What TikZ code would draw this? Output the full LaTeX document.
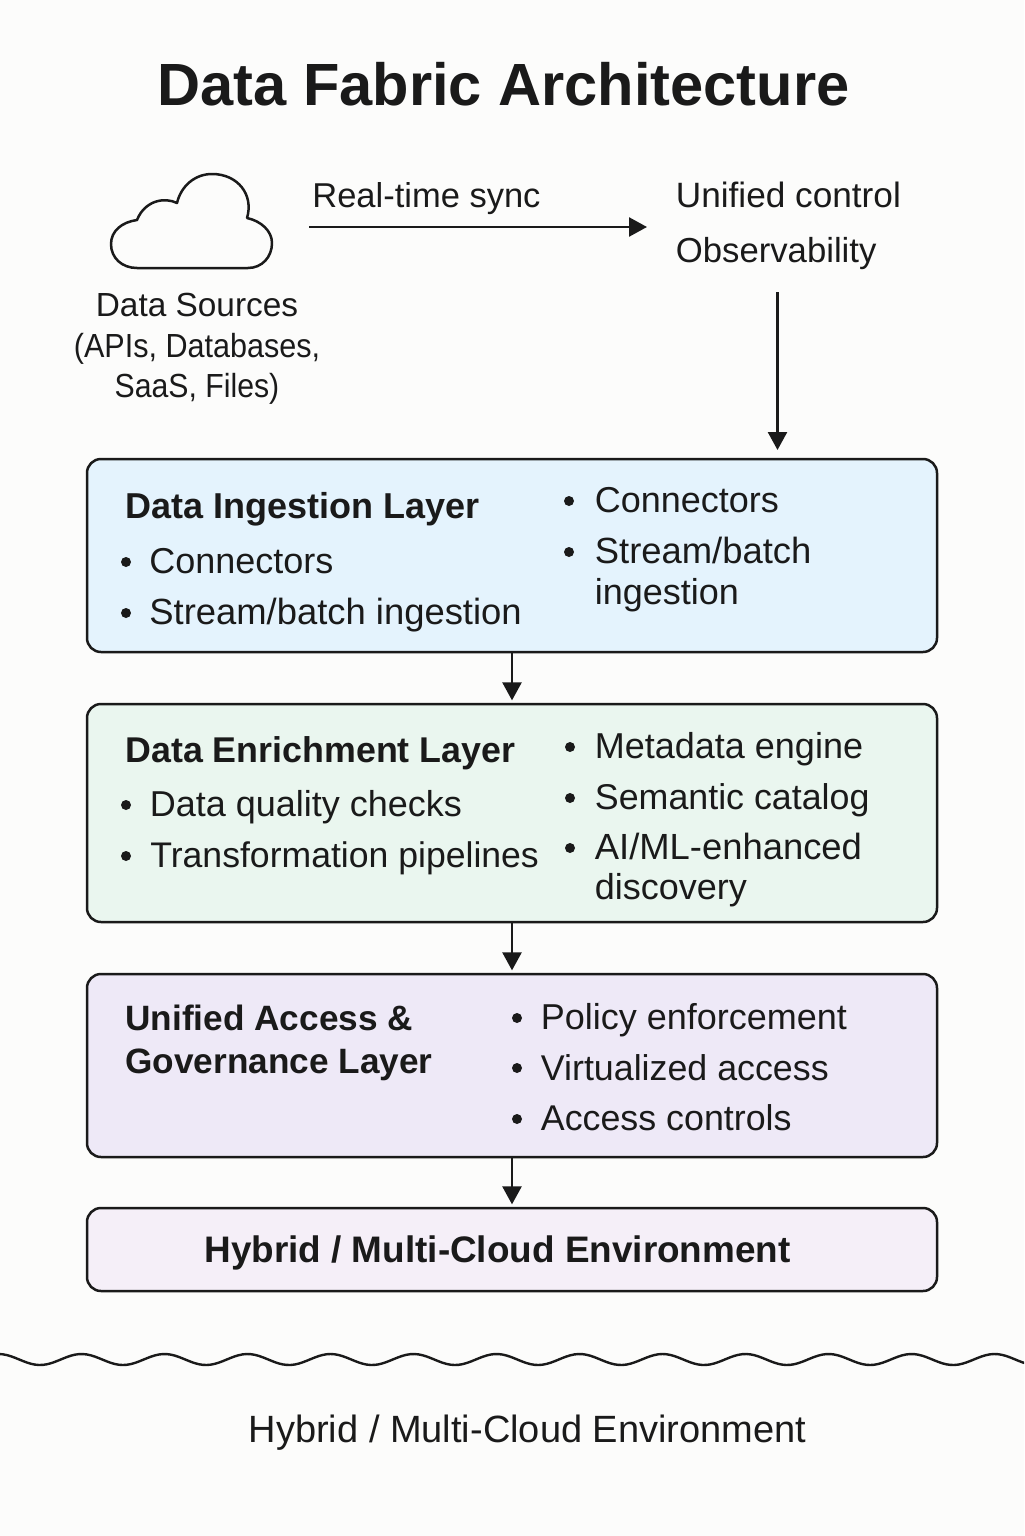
\documentclass[tikz,border=0pt]{standalone}
\usepackage{fontspec}
\setmainfont{Liberation Sans}
\usetikzlibrary{arrows.meta}
\definecolor{bgc}{HTML}{FCFCFB}
\definecolor{ink}{HTML}{1A1A1A}
\definecolor{fa}{HTML}{E4F3FD}
\definecolor{fb}{HTML}{EAF6EF}
\definecolor{fc}{HTML}{EEE9F7}
\definecolor{fd}{HTML}{F5EFF8}
\tikzset{
  layerbox/.style={draw=ink,line width=1.25pt,rounded corners=7pt,inner sep=0pt,minimum width=425pt},
  flow/.style={draw=ink,line width=1.25pt,-{Triangle[length=9pt,width=9.5pt]}},
  txt/.style={anchor=base west,inner sep=0pt,text=ink,font=\fontsize{#1}{20}\selectfont},
  txt/.default=18,
  ctr/.style={anchor=base,inner sep=0pt,text=ink,font=\fontsize{16.7}{20}\selectfont\addfontfeatures{FakeStretch=#1}},
  ctr/.default=1,
  head/.style={anchor=base west,inner sep=0pt,text=ink,font=\fontsize{#1}{20}\selectfont\bfseries},
  head/.default=18,
  dotb/.style={circle,fill=ink,inner sep=0pt,minimum size=5pt},
}
\begin{document}
\begin{tikzpicture}[x=0.5pt,y=-0.5pt]
\path[use as bounding box,fill=bgc] (0,0) rectangle (1024,1536);
\clip (0,0) rectangle (1024,1536);
\node[anchor=base,inner sep=0pt,text=ink,font=\fontsize{29.8}{34}\selectfont\bfseries] (title) at (503.5,105) {Data Fabric Architecture};
% cloud
\draw[ink,line width=1.25pt,line join=round] (137,268) -- (248,268)
  .. controls (262,268) and (272,257) .. (272,243)
  .. controls (272,231) and (261,221) .. (247,218)
  .. controls (254,195) and (238,174) .. (212,174)
  .. controls (195,174) and (181,186) .. (177,203)
  .. controls (165,197) and (145,200) .. (137,220)
  .. controls (122,222) and (111,231) .. (111,244)
  .. controls (111,258) and (122,268) .. (137,268) -- cycle;
\node[ctr] (src1) at (197,316) {Data Sources};
\node[ctr=0.915] (src2) at (197,357) {(APIs, Databases,};
\node[ctr=0.905] (src3) at (197,397) {SaaS, Files)};
\node[txt=17.25] (sync) at (312,207) {Real-time sync};
\coordinate (syncA) at (309,227);
\coordinate (syncB) at (647,227);
\draw[flow] (syncA) -- (syncB);
\node[txt=17.6] (ctl) at (675.5,207) {Unified control};
\node[txt=17.35] (obs) at (675.5,262) {Observability};
\coordinate (obsA) at (777.5,292);
\coordinate (obsB) at (777.5,450);
\draw[flow] (obsA) -- (obsB);
% boxes
\node[layerbox,fill=fa,minimum height=96.5pt] (ing) at (512,555.5) {};
\node[layerbox,fill=fb,minimum height=109pt] (enr) at (512,813) {};
\node[layerbox,fill=fc,minimum height=91.5pt] (acc) at (512,1065.5) {};
\node[layerbox,fill=fd,minimum height=41.5pt] (hyb) at (512,1249.5) {};
\draw[flow,shorten >=1.2pt] (ing) -- (enr);
\draw[flow,shorten >=1.2pt] (enr) -- (acc);
\draw[flow,shorten >=1.2pt] (acc) -- (hyb);
% ingestion
\node[head] (h1) at (125,518) {Data Ingestion Layer};
\node[dotb] (b1) at (126,562) {}; \node[txt] (t1) at (149,573) {Connectors};
\node[dotb] (b2) at (126,613) {}; \node[txt=18.2] (t2) at (149,624) {Stream/batch ingestion};
\node[dotb] (b3) at (569,501) {}; \node[txt] (t3) at (594.5,512) {Connectors};
\node[dotb] (b4) at (569,552) {}; \node[txt=18.2] (t4) at (594.5,563) {Stream/batch};
\node[txt] (t5) at (594.5,604) {ingestion};
% enrichment
\node[head=17.9] (h2) at (125,762) {Data Enrichment Layer};
\node[dotb] (b5) at (126,805) {}; \node[txt] (t6) at (149.5,816) {Data quality checks};
\node[dotb] (b6) at (126,856) {}; \node[txt=17.8] (t7) at (150,867) {Transformation pipelines};
\node[dotb] (b7) at (570,747) {}; \node[txt] (t8) at (594.5,758) {Metadata engine};
\node[dotb] (b8) at (570,798) {}; \node[txt=17.9] (t9) at (594.5,809) {Semantic catalog};
\node[dotb] (b9) at (570,848) {}; \node[txt=18.2] (t10) at (594.5,859) {AI/ML-enhanced};
\node[txt] (t11) at (594.5,899) {discovery};
% access
\node[head=17.6] (h3) at (125,1030) {Unified Access \&};
\node[head=17.6] (h4) at (125,1073) {Governance Layer};
\node[dotb] (b10) at (517,1018) {}; \node[txt] (t12) at (540.5,1029) {Policy enforcement};
\node[dotb] (b11) at (517,1068) {}; \node[txt=17.9] (t13) at (540.5,1080) {Virtualized access};
\node[dotb] (b12) at (517,1119) {}; \node[txt=17.9] (t14) at (540.5,1130) {Access controls};
% hybrid
\node[head=18.45,anchor=base] (h5) at (497.5,1262.5) {Hybrid / Multi-Cloud Environment};
% wave
\draw[ink,line width=1.2pt] plot[domain=-5:1030,samples=260,smooth] (\x,{1359.5+5.5*cos((\x-40)*4.337)});
\node[anchor=base,inner sep=0pt,text=ink,font=\fontsize{19}{20}\selectfont] (foot) at (527.5,1442) {Hybrid / Multi-Cloud Environment};
\end{tikzpicture}
\end{document}
